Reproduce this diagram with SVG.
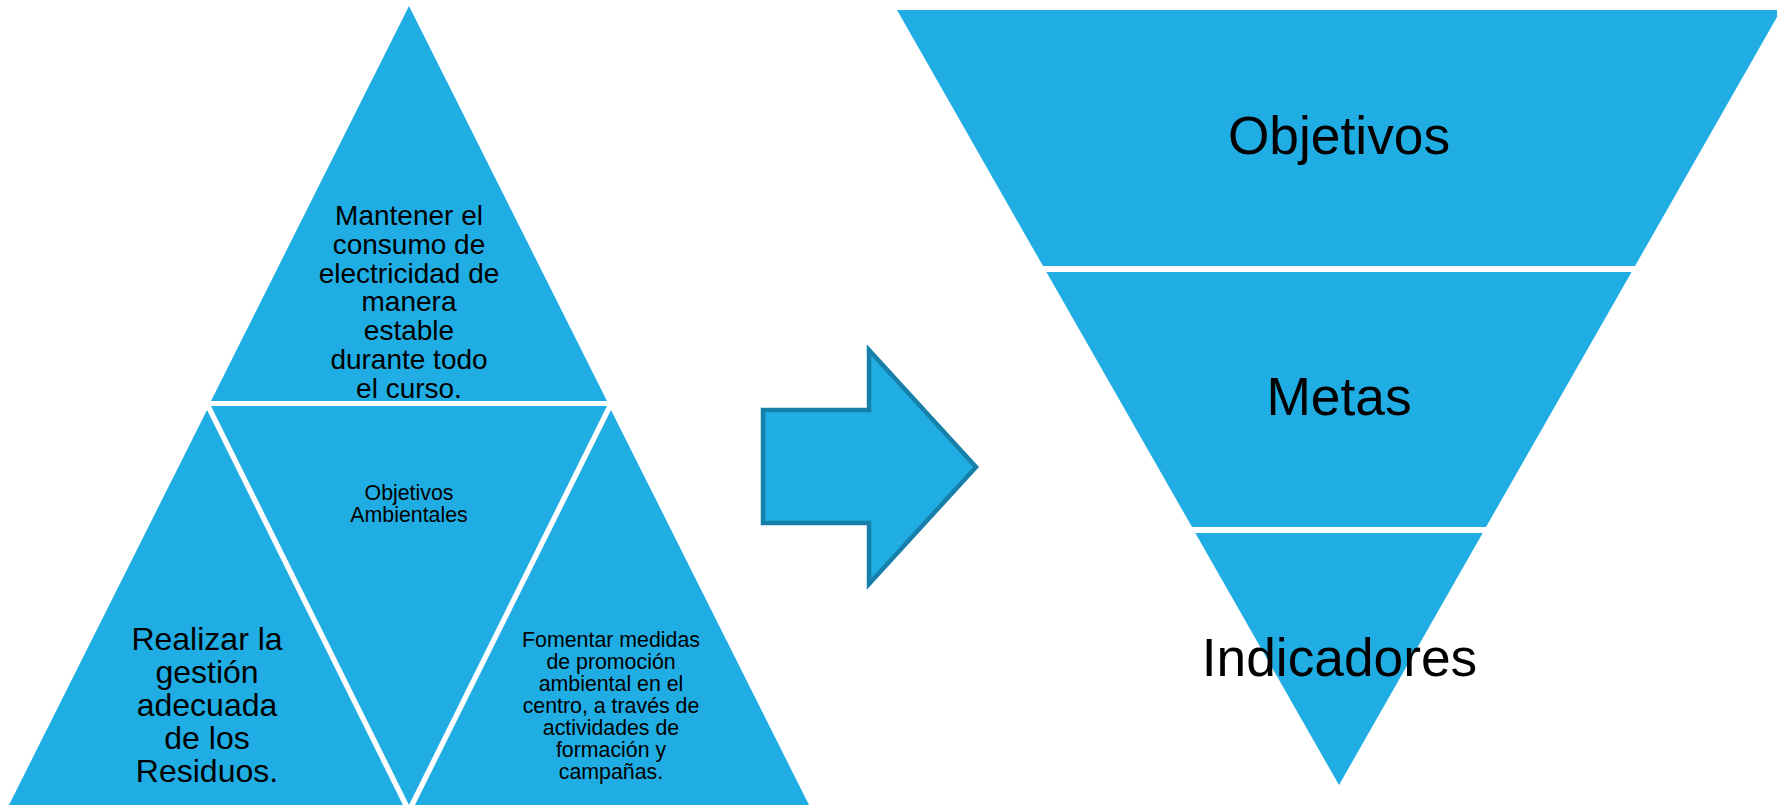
<svg xmlns="http://www.w3.org/2000/svg" width="1777" height="805" viewBox="0 0 1777 805">
<style>
.shape{fill:#1FADE3;stroke:none}
.t{font-family:"Liberation Sans",Arial,sans-serif;fill:#000;text-anchor:middle}
.s21{font-size:21.33px}
.s28{font-size:28px}
.s32{font-size:32px}
.s53{font-size:53.3px}
.arrow{fill:#1FADE3;stroke:#1780AA;stroke-width:4.5;stroke-linejoin:miter}
</style>
<rect width="1777" height="805" fill="#FFFFFF"/>
<g id="tri-top">
<polygon class="shape" points="409,6 211,401 607,401"/>
<text class="t s28"><tspan x="409" y="225">Mantener el</tspan><tspan x="409" y="253.8">consumo de</tspan><tspan x="409" y="282.6">electricidad de</tspan><tspan x="409" y="311.4">manera</tspan><tspan x="409" y="340.2">estable</tspan><tspan x="409" y="369">durante todo</tspan><tspan x="409" y="397.8">el curso.</tspan></text>
</g>
<g id="tri-center">
<polygon class="shape" points="211,406 607,406 409,805"/>
<text class="t s21"><tspan x="409" y="500">Objetivos</tspan><tspan x="409" y="522">Ambientales</tspan></text>
</g>
<g id="tri-left">
<polygon class="shape" points="207,410 9,805 403,805"/>
<text class="t s32"><tspan x="207" y="650">Realizar la</tspan><tspan x="207" y="683">gestión</tspan><tspan x="207" y="716">adecuada</tspan><tspan x="207" y="749">de los</tspan><tspan x="207" y="782">Residuos.</tspan></text>
</g>
<g id="tri-right">
<polygon class="shape" points="611,410 415,805 809,805"/>
<text class="t s21"><tspan x="611" y="646.7">Fomentar medidas</tspan><tspan x="611" y="668.8">de promoción</tspan><tspan x="611" y="690.9">ambiental en el</tspan><tspan x="611" y="713">centro, a través de</tspan><tspan x="611" y="735.1">actividades de</tspan><tspan x="611" y="757.2">formación y</tspan><tspan x="611" y="779.3">campañas.</tspan></text>
</g>
<g id="connectors">
<polygon class="arrow" points="763,410 869,410 869,350 976,467 869,584 869,523 763,523"/>
</g>
<g id="band-objetivos">
<polygon class="shape" points="897,10 1781,10 1635,266 1043,266"/>
<text class="t s53" x="1339" y="154">Objetivos</text>
</g>
<g id="band-metas">
<polygon class="shape" points="1046.4,272 1631.6,272 1486,527 1192,527"/>
<text class="t s53" x="1339" y="415">Metas</text>
</g>
<g id="band-indicadores">
<polygon class="shape" points="1195.3,533 1482.7,533 1339,785"/>
<text class="t s53" x="1339.5" y="676">Indicadores</text>
</g>
</svg>
